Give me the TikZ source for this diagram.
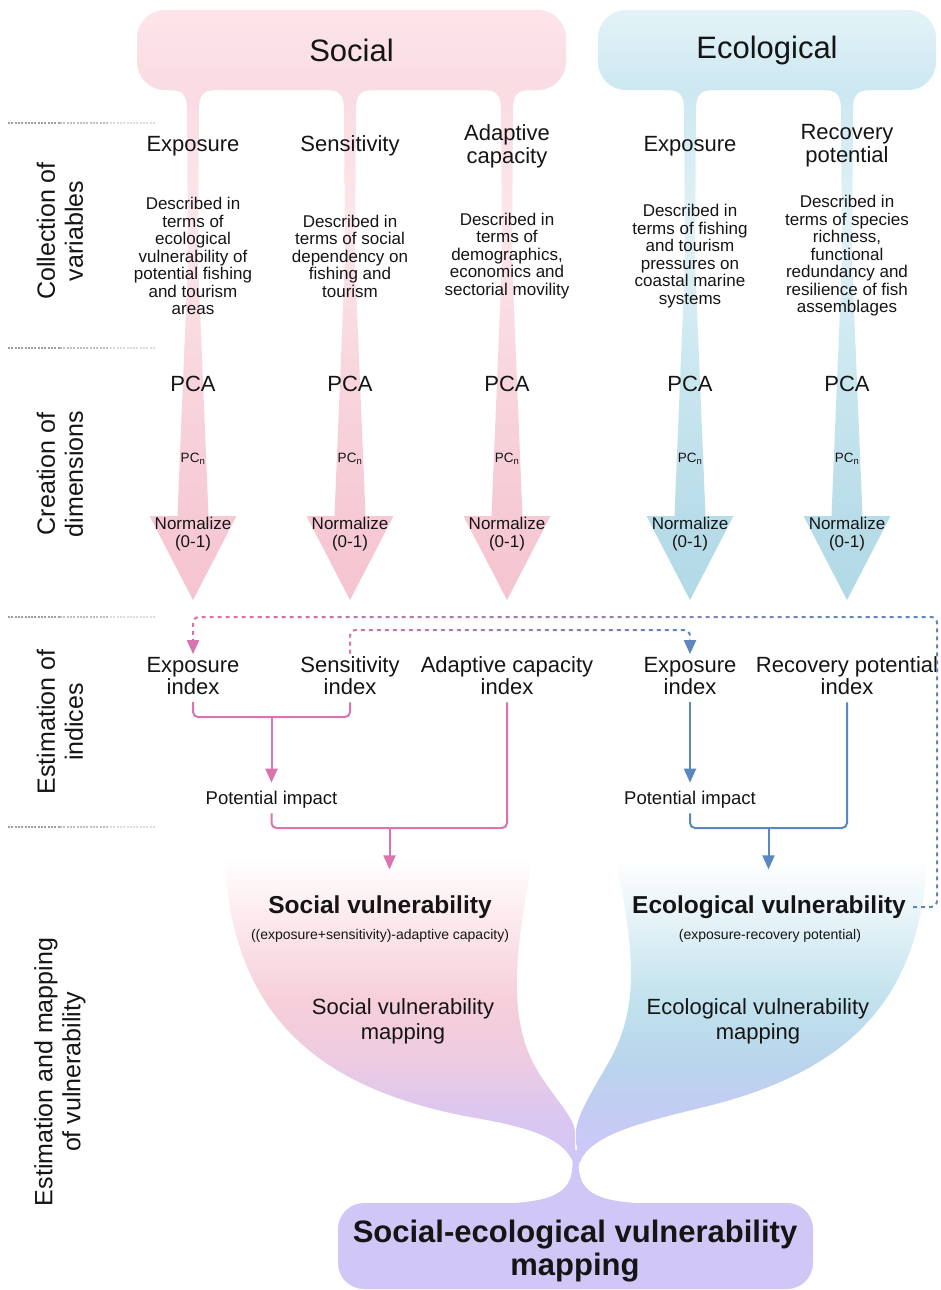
\documentclass[tikz,border=0pt]{standalone}
\usepackage{fontspec}
\setmainfont{Liberation Sans}
\usetikzlibrary{arrows.meta}

% palette
\definecolor{bubS}{HTML}{FCE5EA}
\definecolor{bubSb}{HTML}{FADCE3}
\definecolor{bubE}{HTML}{E3F3F8}
\definecolor{bubEb}{HTML}{CDE8F1}
\definecolor{sA}{HTML}{F5C4D0}
\definecolor{sB}{HTML}{F6CAD5}
\definecolor{sC}{HTML}{F8D5DD}
\definecolor{sD}{HTML}{FBE7EB}
\definecolor{eA}{HTML}{B1D9E6}
\definecolor{eB}{HTML}{B8DDE9}
\definecolor{eC}{HTML}{C9E6EF}
\definecolor{eD}{HTML}{E2F2F7}
\definecolor{fS2}{HTML}{FDEFF2}
\definecolor{fS3}{HTML}{F6CFD9}
\definecolor{fS4}{HTML}{EECBE1}
\definecolor{fS5}{HTML}{DCC7EF}
\definecolor{fE2}{HTML}{ECF6FA}
\definecolor{fE3}{HTML}{C1E2ED}
\definecolor{fE4}{HTML}{B9D6EC}
\definecolor{fE5}{HTML}{C3CCF3}
\definecolor{lav}{HTML}{D0C7F7}
\definecolor{lpink}{HTML}{DC72AE}
\definecolor{lblue}{HTML}{5A88BE}
\definecolor{txt}{HTML}{151515}

% vertical shadings (path spans 25bp..75bp)
\pgfdeclareverticalshading{stemsoc}{100bp}{color(0bp)=(sA); color(25bp)=(sA); color(33bp)=(sB); color(46bp)=(sC); color(61bp)=(sD); color(74bp)=(bubSb); color(100bp)=(bubSb)}
\pgfdeclareverticalshading{stemeco}{100bp}{color(0bp)=(eA); color(25bp)=(eA); color(33bp)=(eB); color(46bp)=(eC); color(61bp)=(eD); color(74bp)=(bubEb); color(100bp)=(bubEb)}
\pgfdeclareverticalshading{funsoc}{100bp}{color(0bp)=(lav); color(25bp)=(lav); color(34bp)=(fS5); color(42bp)=(fS4); color(51bp)=(fS3); color(66bp)=(fS2); color(73bp)=(white); color(100bp)=(white)}
\pgfdeclareverticalshading{funeco}{100bp}{color(0bp)=(lav); color(25bp)=(lav); color(34bp)=(fE5); color(42bp)=(fE4); color(51bp)=(fE3); color(66bp)=(fE2); color(73bp)=(white); color(100bp)=(white)}

\begin{document}
\begin{tikzpicture}[x=1pt,y=-1pt,
  every node/.style={text=txt},
  bubble/.style={rounded corners=28pt, inner sep=0pt, font=\fontsize{31}{33}\selectfont},
  hdr/.style={font=\fontsize{22}{23}\selectfont, align=center, inner sep=0pt},
  desc/.style={font=\fontsize{17}{17.5}\selectfont, align=center, inner sep=0pt},
  pcalbl/.style={font=\fontsize{22}{23}\selectfont, inner sep=0pt},
  pcnlbl/.style={font=\fontsize{13.5}{14}\selectfont, inner sep=0pt},
  normlbl/.style={font=\fontsize{17}{17.7}\selectfont, align=center, inner sep=0pt},
  idxlbl/.style={font=\fontsize{22}{22}\selectfont, align=center, inner xsep=1pt, inner ysep=3pt},
  pilbl/.style={font=\fontsize{18.5}{20}\selectfont, inner xsep=1pt, inner ysep=4.5pt},
  vulbl/.style={font=\bfseries\fontsize{24.5}{26}\selectfont, inner sep=0pt},
  formlbl/.style={font=\fontsize{14}{15}\selectfont, inner sep=0pt},
  maplbl/.style={font=\fontsize{22}{25}\selectfont, align=center, inner sep=0pt},
  sidelbl/.style={font=\fontsize{25}{28}\selectfont, align=center, rotate=90, inner sep=0pt},
  sepl/.style={line width=1.2pt, dash pattern=on 2pt off 1.3pt},
  pl/.style={draw=lpink, line width=2pt},
  bl/.style={draw=lblue, line width=2pt},
  dl/.style={line width=2pt, dash pattern=on 4pt off 4pt, rounded corners=6pt},
  tip/.style={-{Triangle[length=14pt,width=12pt]}}
]
\fill[white] (0,0) rectangle (940,1290);
\useasboundingbox (0,0) rectangle (940,1290);

% ---- stems with arrow heads
\foreach \cx in {193,350,507}{
  \shade[shading=stemsoc] (\cx-24,80) -- (\cx-24,90) .. controls (\cx-10,90) and (\cx-6,95) .. (\cx-6,110)
    -- (\cx-5,260) -- (\cx-15.5,516) -- (\cx-43.5,516) -- (\cx,600) -- (\cx+43.5,516) -- (\cx+15.5,516)
    -- (\cx+5,260) -- (\cx+6,110) .. controls (\cx+6,95) and (\cx+10,90) .. (\cx+24,90) -- (\cx+24,80) -- cycle;
}
\foreach \cx in {690,847}{
  \shade[shading=stemeco] (\cx-24,80) -- (\cx-24,90) .. controls (\cx-10,90) and (\cx-6,95) .. (\cx-6,110)
    -- (\cx-5,260) -- (\cx-15.5,516) -- (\cx-43.5,516) -- (\cx,600) -- (\cx+43.5,516) -- (\cx+15.5,516)
    -- (\cx+5,260) -- (\cx+6,110) .. controls (\cx+6,95) and (\cx+10,90) .. (\cx+24,90) -- (\cx+24,80) -- cycle;
}

% ---- top bubbles
\node[bubble, top color=bubS, bottom color=bubSb, minimum width=429pt, minimum height=80pt] (socB) at (351.5,50) {Social};
\node[bubble, top color=bubE, bottom color=bubEb, minimum width=338pt, minimum height=80pt] (ecoB) at (767,50) {Ecological};

% ---- section separators
\foreach \y in {123,348,617,827}{
  \draw[sepl, gray!75] (8,\y) -- (60,\y);
  \draw[sepl, gray!50] (60,\y) -- (110,\y);
  \draw[sepl, gray!28] (110,\y) -- (155,\y);
}

% ---- side labels
\node[sidelbl] (lab1) at (60,231) {Collection of\\variables};
\node[sidelbl] (lab2) at (60,474) {Creation of\\dimensions};
\node[sidelbl] (lab3) at (60,722) {Estimation of\\indices};
\node[sidelbl] (lab4) at (60,1072) {Estimation and mapping\\of vulnerability};

% ---- variables
\node[hdr] (hsexp) at (193,146) {Exposure};
\node[hdr] (hssen) at (350,146) {Sensitivity};
\node[hdr] (hsada) at (507,146) {Adaptive\\capacity};
\node[hdr] (heexp) at (690,146) {Exposure};
\node[hdr] (herec) at (847,146) {Recovery\\potential};

\node[desc] (dsexp) at (193,256) {Described in\\terms of\\ecological\\vulnerability of\\potential fishing\\and tourism\\areas};
\node[desc] (dssen) at (350,256) {Described in\\terms of social\\dependency on\\fishing and\\tourism};
\node[desc] (dsada) at (507,256) {Described in\\terms of\\demographics,\\economics and\\sectorial movility};
\node[desc] (deexp) at (690,256) {Described in\\terms of fishing\\and tourism\\pressures on\\coastal marine\\systems};
\node[desc] (derec) at (847,256) {Described in\\terms of species\\richness,\\functional\\redundancy and\\resilience of fish\\assemblages};

% ---- dimensions
\foreach \cx/\nm in {193/a,350/b,507/c,690/d,847/e}{
  \node[pcalbl] (pca\nm) at (\cx,383.5) {PCA};
  \node[pcnlbl] (pcn\nm) at (\cx,459) {PC\textsubscript{n}};
  \node[normlbl] (nrm\nm) at (\cx,534) {Normalize\\(0-1)};
}

% ---- bottom funnels
\shade[shading=funsoc] (224,845) -- (535,845)
  .. controls (515,950) and (505,1020) .. (540,1075)
  .. controls (560,1105) and (574,1118) .. (575,1132) -- (575,1168)
  .. controls (568,1140) and (535,1128) .. (470,1117)
  .. controls (300,1085) and (228,1000) .. (224,845) -- cycle;
\shade[shading=funeco] (613,845) -- (928,845)
  .. controls (924,990) and (860,1070) .. (700,1108)
  .. controls (630,1125) and (584,1138) .. (578,1168) -- (576,1132)
  .. controls (577,1115) and (590,1095) .. (610,1060)
  .. controls (640,1005) and (635,950) .. (613,845) -- cycle;
\fill[lav] (572.5,1150) -- (579,1150) -- (578.5,1166) .. controls (580,1194) and (598,1203) .. (660,1204)
  -- (660,1215) -- (490,1215) -- (490,1204) .. controls (552,1203) and (571,1194) .. (572.5,1166) -- cycle;
\node[fill=lav, rounded corners=26pt, minimum width=475pt, minimum height=86pt, inner sep=0pt] (sevbox) at (575.5,1246) {};

% ---- indices
\node[idxlbl] (sexpi) at (193,676) {Exposure\\index};
\node[idxlbl] (ssensi) at (350,676) {Sensitivity\\index};
\node[idxlbl] (sadi) at (507,676) {Adaptive capacity\\index};
\node[idxlbl] (eexpi) at (690,676) {Exposure\\index};
\node[idxlbl] (erpi) at (847,676) {Recovery potential\\index};
\node[pilbl] (spi) at (271.5,800) {Potential impact};
\node[pilbl] (epi) at (690,800) {Potential impact};

% ---- vulnerability texts
\node[vulbl] (svul) at (380,907) {Social vulnerability};
\node[formlbl] (sform) at (380,936) {((exposure+sensitivity)-adaptive capacity)};
\node[maplbl] (smap) at (403,1021) {Social vulnerability\\mapping};
\node[vulbl] (evul) at (769,907) {Ecological vulnerability};
\node[formlbl] (eform) at (770,936) {(exposure-recovery potential)};
\node[maplbl] (emap) at (758,1021) {Ecological vulnerability\\mapping};
\node[font=\bfseries\fontsize{31}{33}\selectfont, align=center, inner sep=0pt] (sev) at (575,1251) {Social-ecological vulnerability\\mapping};

% ---- junctions
\coordinate (sj1) at (271.5,717);
\coordinate (sj2) at (389.5,828);
\coordinate (ej2) at (768.5,828);

% ---- social connectors
\draw[pl, rounded corners=5pt] ([yshift=-4pt]sexpi.south) -- (sexpi.south |- sj1) -- (ssensi.south |- sj1) -- ([yshift=-4pt]ssensi.south);
\draw[pl, tip, shorten >=4pt] (sj1) -- (spi.north);
\draw[pl, rounded corners=5pt] (spi.south) -- (spi.south |- sj2) -- (sadi.south |- sj2) -- ([yshift=-4pt]sadi.south);
\draw[pl, tip, shorten >=26pt] (sj2) -- (sj2 |- svul.north);

% ---- ecological connectors
\draw[bl, tip, shorten >=4pt] ([yshift=-4pt]eexpi.south) -- (epi.north);
\draw[bl, rounded corners=5pt] (epi.south) -- (epi.south |- ej2) -- (erpi.south |- ej2) -- ([yshift=-4pt]erpi.south);
\draw[bl, tip, shorten >=26pt] (ej2) -- (ej2 |- svul.north);

% ---- dashed feedback links, coloured from pink to blue
\foreach \i in {0,...,19}{
  \pgfmathsetmacro{\xa}{185+\i*38}
  \pgfmathtruncatemacro{\pc}{100-(\i+0.5)*5}
  \begin{scope}
    \clip (\xa-0.6,600) rectangle (\xa+38.6,925);
    \draw[dl, draw=lpink!\pc!lblue, tip] ([xshift=7pt]evul.east) -- (evul.east -| 937,0) -- (937,617)
      -- (sexpi.north |- 0,617) -- (sexpi.north);
  \end{scope}
}
\foreach \i in {0,...,11}{
  \pgfmathsetmacro{\xa}{340+\i*30}
  \pgfmathtruncatemacro{\pc}{100-(\i+0.5)*100/12}
  \begin{scope}
    \clip (\xa-0.6,600) rectangle (\xa+30.6,700);
    \draw[dl, draw=lpink!\pc!lblue, tip] (ssensi.north) -- (ssensi.north |- 0,630)
      -- (eexpi.north |- 0,630) -- (eexpi.north);
  \end{scope}
}
\end{tikzpicture}
\end{document}
